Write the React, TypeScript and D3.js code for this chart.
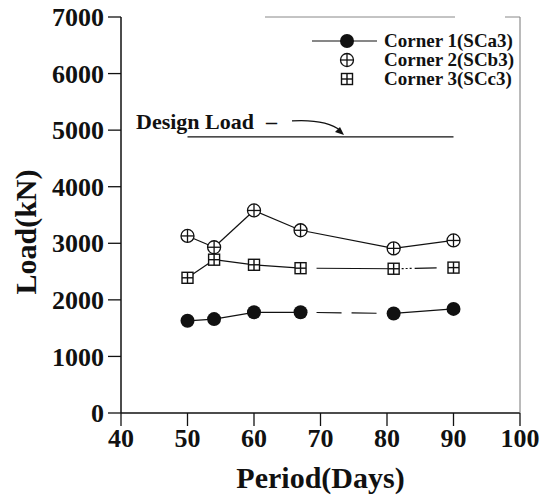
import React from "react";
import * as d3 from "d3";

// Days at which the corner loads were recorded
const days = [50, 54, 60, 67, 81, 90];
// Measured loads (kN) at each corner
const corner1 = [1630, 1660, 1780, 1780, 1760, 1840];
const corner2 = [3130, 2930, 3580, 3230, 2910, 3050];
const corner3 = [2390, 2710, 2620, 2560, 2550, 2570];
const seriesNames = ["Corner 1(SCa3)", "Corner 2(SCb3)", "Corner 3(SCc3)"];
const designLoad = 4880;
const designSpan = [50, 90];
const xTicks = [40, 50, 60, 70, 80, 90, 100];
const yTicks = [0, 1000, 2000, 3000, 4000, 5000, 6000, 7000];

const W = 547;
const H = 497;
const FONT = "'Liberation Serif', 'Times New Roman', serif";
const INK = "#111";

// Dash style for each connecting segment (index i joins point i and i+1)
const segDash: (string | null)[][] = [
  [null, null, null, "0 16 25 10 25 100", null],
  [null, null, null, null, null],
  [null, null, null, "0 16 200", "0 8 2 2 2 2 2 3 22 20"],
];

type Marker = "dot" | "circlePlus" | "squarePlus";
const markers: Marker[] = ["dot", "circlePlus", "squarePlus"];

function MarkerShape({ kind, cx, cy }: { kind: Marker; cx: number; cy: number }) {
  if (kind === "dot") return <circle cx={cx} cy={cy} r={7} fill={INK} />;
  if (kind === "circlePlus")
    return (
      <g stroke={INK} strokeWidth={1.3} fill="#fff">
        <circle cx={cx} cy={cy} r={6.5} />
        <line x1={cx - 6.5} x2={cx + 6.5} y1={cy} y2={cy} />
        <line x1={cx} x2={cx} y1={cy - 6.5} y2={cy + 6.5} />
      </g>
    );
  const s = 5.5;
  return (
    <g stroke={INK} strokeWidth={1.4} fill="#fff">
      <rect x={cx - s} y={cy - s} width={2 * s} height={2 * s} />
      <line x1={cx - s} x2={cx + s} y1={cy} y2={cy} />
      <line x1={cx} x2={cx} y1={cy - s} y2={cy + s} />
    </g>
  );
}

export default function App() {
  const x = d3.scaleLinear().domain([40, 100]).range([121, 520]);
  const y = d3.scaleLinear().domain([0, 7000]).range([413, 17]);
  const all = [corner1, corner2, corner3];
  const line = d3
    .line<[number, number]>()
    .x((d) => x(d[0]))
    .y((d) => y(d[1]));

  const legendY = [41, 60, 79];
  const lx = 347;
  const dl = y(designLoad);

  return (
    <svg
      width={W}
      height={H}
      style={{ position: "absolute", left: 0, top: 0, background: "#fff" }}
      fontFamily={FONT}
      fontWeight="bold"
    >
      {/* axes and frame */}
      <line x1={x(40)} x2={x(100)} y1={y(0)} y2={y(0)} stroke={INK} strokeWidth={1.5} />
      <line x1={x(40)} x2={x(40)} y1={y(0)} y2={y(7000)} stroke={INK} strokeWidth={1.5} />
      <line x1={x(100)} x2={x(100)} y1={y(0)} y2={y(7000)} stroke="#777" strokeWidth={1} />
      <line x1={265} x2={455} y1={y(7000)} y2={y(7000)} stroke="#888" strokeWidth={1} />
      <line x1={505} x2={520} y1={y(7000)} y2={y(7000)} stroke="#888" strokeWidth={1} />
      {yTicks.map((t) => (
        <g key={"y" + t}>
          <line x1={x(40) - 13} x2={x(40)} y1={y(t)} y2={y(t)} stroke={INK} strokeWidth={1.3} />
          <text x={x(40) - 17} y={y(t)} dy="0.35em" textAnchor="end" fontSize={26} fill={INK}>
            {t}
          </text>
        </g>
      ))}
      {xTicks.map((t) => (
        <g key={"x" + t}>
          <line x1={x(t)} x2={x(t)} y1={y(0)} y2={y(0) + 13} stroke={INK} strokeWidth={1.3} />
          <text x={x(t)} y={y(0) + 34} textAnchor="middle" fontSize={26} fill={INK}>
            {t}
          </text>
        </g>
      ))}
      <text x={x(70)} y={488} textAnchor="middle" fontSize={30} fill={INK}>
        Period(Days)
      </text>
      <text
        transform={`translate(36,232) rotate(-90)`}
        textAnchor="middle"
        fontSize={30}
        fill={INK}
      >
        Load(kN)
      </text>

      {/* design load */}
      <line
        x1={x(designSpan[0])}
        x2={x(designSpan[1])}
        y1={dl}
        y2={dl}
        stroke={INK}
        strokeWidth={1.2}
      />
      <text x={136} y={dl - 8} fontSize={22} fill={INK}>
        Design Load
      </text>
      <text x={266} y={dl - 8} fontSize={22} fill={INK}>
        –
      </text>
      <path
        d={`M ${292} ${dl - 16} Q ${326} ${dl - 18} ${341} ${dl - 6}`}
        fill="none"
        stroke={INK}
        strokeWidth={1.2}
      />
      <path d={`M ${344} ${dl - 2} l -9 -3 l 5 -5 z`} fill={INK} />

      {/* series */}
      {all.map((vals, si) => {
        const pts: [number, number][] = days.map((d, i) => [d, vals[i]]);
        return (
          <g key={si}>
            {pts.slice(0, -1).map((p, i) => (
              <path
                key={i}
                d={line([p, pts[i + 1]]) || ""}
                fill="none"
                stroke={INK}
                strokeWidth={1.2}
                strokeDasharray={segDash[si][i] || undefined}
              />
            ))}
            {pts.map((p, i) => (
              <MarkerShape key={i} kind={markers[si]} cx={x(p[0])} cy={y(p[1])} />
            ))}
          </g>
        );
      })}

      {/* legend */}
      {seriesNames.map((name, i) => (
        <g key={name}>
          {i === 0 && (
            <line x1={lx - 35} x2={lx + 30} y1={legendY[i]} y2={legendY[i]} stroke={INK} strokeWidth={1.2} />
          )}
          <MarkerShape kind={markers[i]} cx={lx} cy={legendY[i]} />
          <text x={384} y={legendY[i]} dy="0.33em" fontSize={19} fill={INK}>
            {name}
          </text>
        </g>
      ))}
    </svg>
  );
}
